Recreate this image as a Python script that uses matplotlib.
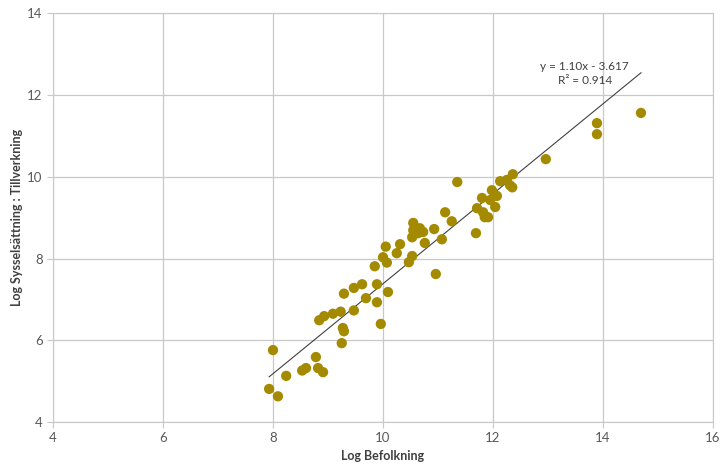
import matplotlib
matplotlib.use("Agg")
import matplotlib.pyplot as plt
import numpy as np

# Punkter (log befolkning, log sysselsättning tillverkning)
log_bef = [7.93, 8.00, 8.09, 8.24, 8.53, 8.60, 8.78, 8.82, 8.91, 8.84,
           8.93, 9.09, 9.23, 9.47, 9.27, 9.29, 9.25, 9.29, 9.47, 9.62,
           9.69, 9.89, 9.96, 9.89, 10.09, 9.85, 10.00, 10.07, 10.05, 10.25,
           10.31, 10.47, 10.53, 10.55, 10.55, 10.53, 10.67, 10.73, 10.64, 10.93,
           10.76, 11.07, 10.96, 11.13, 11.25, 11.35, 11.69, 11.71, 11.80, 11.82,
           11.85, 11.91, 11.95, 11.98, 12.04, 12.07, 12.13, 12.25, 12.31, 12.35,
           12.36, 12.96, 13.89, 13.89, 14.69]
log_syss = [4.81, 5.76, 4.63, 5.13, 5.26, 5.32, 5.59, 5.32, 5.22, 6.49,
            6.59, 6.65, 6.70, 6.73, 6.30, 6.22, 5.93, 7.14, 7.28, 7.37,
            7.03, 6.93, 6.40, 7.37, 7.18, 7.81, 8.03, 7.90, 8.29, 8.13,
            8.35, 7.91, 8.06, 8.87, 8.69, 8.52, 8.74, 8.65, 8.62, 8.72,
            8.38, 8.47, 7.62, 9.13, 8.91, 9.87, 8.62, 9.23, 9.48, 9.13,
            9.01, 9.01, 9.43, 9.67, 9.26, 9.53, 9.89, 9.92, 9.79, 9.74,
            10.06, 10.43, 11.31, 11.04, 11.56]

# Trendlinje enligt etiketten
k = 1.10
m = -3.617
etikett = "y = 1.10x - 3.617\nR² = 0.914"

x_ticks = [4, 6, 8, 10, 12, 14, 16]
y_ticks = [4, 6, 8, 10, 12, 14]

plt.rcParams['font.family'] = ['Lato', 'DejaVu Sans']

fig = plt.figure(figsize=(7.2, 4.7), dpi=100)
ax = fig.add_axes([0.0736, 0.102, 0.9167, 0.870])

ax.scatter(log_bef, log_syss, s=55, color="#A38A00", edgecolors="none", zorder=3)

xs = np.array([min(log_bef), max(log_bef)])
ax.plot(xs, k * xs + m, color="#404040", lw=0.8, zorder=2)

ax.text(13.67, 12.52, etikett, ha="center", va="center", fontsize=8.5,
        color="#404040", linespacing=1.3)

ax.set_xlim(4, 16)
ax.set_ylim(4, 14)
ax.set_xticks(x_ticks)
ax.set_yticks(y_ticks)
ax.grid(True, color="#C8C8C8", lw=0.9)
ax.set_axisbelow(True)
for sp in ax.spines.values():
    sp.set_color("#C8C8C8")
ax.tick_params(axis="both", colors="#C8C8C8", labelcolor="#595959",
               labelsize=9.5, length=4, direction="out")

ax.set_xlabel("Log Befolkning", fontsize=9, fontweight="bold", color="#404040", labelpad=4)
ax.set_ylabel("Log Sysselsättning : Tillverkning", fontsize=9, fontweight="bold",
              color="#404040", labelpad=3)

fig.savefig("out.png", dpi=100)
